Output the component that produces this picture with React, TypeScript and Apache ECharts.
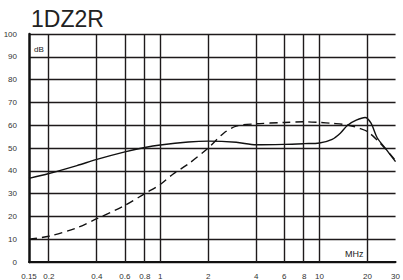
import React, { useEffect, useRef } from "react";
import * as echarts from "echarts";

const xTicks = [0.15, 0.2, 0.4, 0.6, 0.8, 1, 2, 4, 6, 8, 10, 20, 30];
const yTicks = [0, 10, 20, 30, 40, 50, 60, 70, 80, 90, 100];

const solidFreq = [0.15, 0.2, 0.3, 0.4, 0.6, 0.8, 1, 1.5, 2, 3, 4, 6, 8, 10, 12, 13.5, 15, 17, 19.3, 21, 23, 26, 30];
const solidDb = [36.7, 38.8, 42.3, 45, 48.3, 50.2, 51.3, 52.6, 53, 52.5, 51.4, 51.6, 51.9, 52.2, 53.8, 56.5, 60, 62.2, 63.4, 61, 54.5, 49.7, 44];

const dashFreq = [0.15, 0.2, 0.3, 0.4, 0.6, 0.8, 1, 1.2, 1.5, 2, 2.5, 3, 4, 6, 8, 10, 12, 15, 18, 20, 23, 26, 30];
const dashDb = [10, 11.3, 15, 19, 24.8, 30, 34, 38.5, 43, 50, 56.5, 59.6, 60.6, 61.2, 61.5, 61.2, 60.8, 60.1, 58.5, 57.2, 53.5, 49.5, 44.5];

const FONT = "Liberation Sans, Arial, sans-serif";
const NARROW = "Liberation Sans Narrow, Arial Narrow, Liberation Sans, sans-serif";

export default function App() {
  const ref = useRef<HTMLDivElement>(null);
  useEffect(() => {
    if (!ref.current) return;
    const chart = echarts.init(ref.current, null, { renderer: "svg" });
    const toPts = (f: number[], v: number[]) => f.map((x, i) => [Math.log10(x), v[i]]);
    const gridColor = "#1e1a1b";
    chart.setOption({
      animation: false,
      grid: { left: 29, right: 2, top: 34, bottom: 18, containLabel: false },
      xAxis: {
        type: "value",
        min: Math.log10(0.15),
        max: Math.log10(30),
        axisLine: { show: true, onZero: false, lineStyle: { color: "#111", width: 2 } },
        axisTick: { show: false },
        axisLabel: {
          customValues: xTicks.map((t) => Math.log10(t)),
          formatter: (v: number) => String(parseFloat(Math.pow(10, v).toPrecision(3))),
          fontSize: 8,
          color: "#333",
          fontFamily: NARROW,
          margin: 10,
        },
        splitLine: { show: false },
      },
      yAxis: {
        type: "value",
        min: yTicks[0],
        max: yTicks[yTicks.length - 1],
        interval: 10,
        axisLine: { show: true, onZero: false, lineStyle: { color: "#111", width: 2.5 } },
        axisTick: { show: false },
        axisLabel: { fontSize: 8, color: "#333", fontFamily: NARROW, margin: 12 },
        splitLine: { show: true, lineStyle: { color: gridColor, width: 1.4 } },
      },
      series: [
        {
          type: "line",
          data: toPts(solidFreq, solidDb),
          smooth: 0.3,
          showSymbol: false,
          lineStyle: { color: "#111", width: 1.4, type: "solid" },
          markLine: {
            silent: true,
            symbol: "none",
            label: { show: false },
            lineStyle: { color: gridColor, width: 1.4, type: "solid" },
            data: xTicks.slice(1).map((t) => ({ xAxis: Math.log10(t) })),
          },
        },
        {
          type: "line",
          data: toPts(dashFreq, dashDb),
          smooth: 0.3,
          showSymbol: false,
          lineStyle: { color: "#111", width: 1.4, type: [8, 5] },
        },
      ],
      graphic: [
        {
          type: "text",
          x: 31,
          y: 19,
          style: { text: "1DZ2R", fontSize: 23, fontFamily: FONT, fill: "#222", textVerticalAlign: "middle", verticalAlign: "middle" },
        },
        {
          type: "text",
          x: 34,
          y: 49.5,
          style: { text: "dB", fontSize: 8, fontFamily: FONT, fill: "#222", textVerticalAlign: "middle", verticalAlign: "middle" },
        },
        {
          type: "text",
          x: 345,
          y: 254,
          style: { text: "MHz", fontSize: 9, fontFamily: FONT, fill: "#222", textVerticalAlign: "middle", verticalAlign: "middle" },
        },
      ],
    });
    return () => chart.dispose();
  }, []);
  return <div ref={ref} style={{ width: 403, height: 280, position: "absolute", left: 0, top: 0, background: "#fff" }} />;
}
